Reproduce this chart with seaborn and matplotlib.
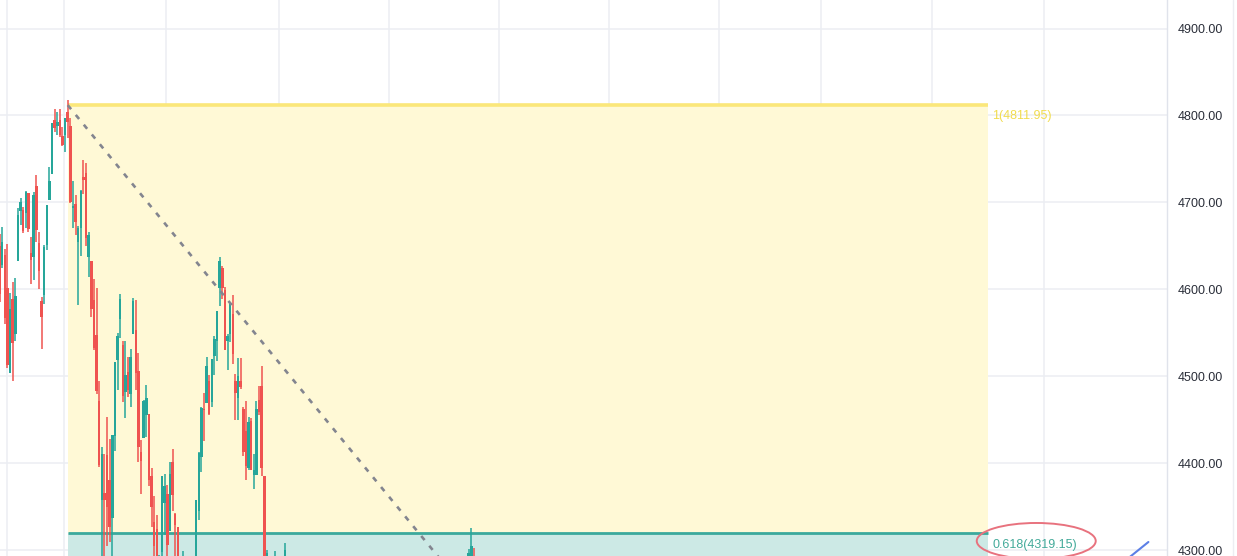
import matplotlib
matplotlib.use("Agg")
import matplotlib.pyplot as plt
from matplotlib.patches import Ellipse
import numpy as np
import pandas as pd
import seaborn as sns

# Daily candles (trading-session number, open, high, low, close)
session = list(range(0, 111)) + [177, 178, 179, 180, 181, 182, 183]
open_ = [4650, 4628, 4640, 4602, 4504, 4589, 4548, 4632, 4690, 4691,
         4688, 4711, 4642, 4637, 4719, 4653, 4587, 4594, 4651, 4703,
         4733, 4795, 4788, 4795, 4776, 4778, 4804, 4788, 4693, 4698,
         4655, 4670, 4729, 4734, 4637, 4632, 4588, 4547, 4471, 4357,
         4366, 4409, 4380, 4337, 4431, 4519, 4566, 4536, 4482, 4505,
         4480, 4548, 4553, 4506, 4413, 4429, 4455, 4456, 4385, 4332,
         4324, 4155, 4298, 4354, 4364, 4322, 4401, 4342, 4327, 4202,
         4223, 4253, 4279, 4202, 4188, 4288, 4345, 4407, 4462, 4469,
         4494, 4470, 4523, 4541, 4602, 4624, 4599, 4540, 4548, 4572,
         4495, 4475, 4494, 4462, 4437, 4394, 4449, 4386, 4386, 4473,
         4489, 4385, 4256, 4278, 4187, 4207, 4253, 4130, 4159, 4181,
         4271,
         4227, 4225, 4270, 4290, 4281, 4273, 4267]
high = [4664, 4672, 4646, 4652, 4596, 4608, 4613, 4694, 4705, 4695,
        4713, 4711, 4660, 4712, 4731, 4666, 4591, 4651, 4697, 4741,
        4791, 4807, 4804, 4808, 4787, 4797, 4818, 4797, 4725, 4708,
        4673, 4714, 4749, 4745, 4666, 4632, 4612, 4602, 4495, 4418,
        4411, 4453, 4428, 4432, 4516, 4550, 4595, 4541, 4540, 4522,
        4531, 4590, 4588, 4527, 4427, 4473, 4490, 4456, 4394, 4362,
        4340, 4294, 4385, 4388, 4375, 4401, 4416, 4343, 4327, 4277,
        4299, 4268, 4292, 4247, 4272, 4358, 4413, 4465, 4481, 4522,
        4501, 4520, 4546, 4575, 4637, 4627, 4603, 4548, 4583, 4594,
        4503, 4521, 4521, 4464, 4471, 4453, 4452, 4410, 4471, 4489,
        4512, 4385, 4300, 4278, 4240, 4299, 4270, 4169, 4200, 4308,
        4271,
        4257, 4280, 4301, 4325, 4302, 4292, 4267]
low = [4585, 4625, 4560, 4510, 4504, 4495, 4540, 4632, 4674, 4665,
       4671, 4666, 4606, 4611, 4654, 4600, 4531, 4583, 4645, 4703,
       4733, 4781, 4778, 4775, 4765, 4758, 4774, 4699, 4671, 4663,
       4582, 4638, 4710, 4650, 4614, 4568, 4530, 4480, 4395, 4222,
       4287, 4305, 4309, 4273, 4414, 4484, 4544, 4470, 4452, 4476,
       4465, 4548, 4484, 4401, 4365, 4429, 4430, 4374, 4327, 4267,
       4222, 4114, 4287, 4317, 4279, 4322, 4345, 4285, 4199, 4157,
       4223, 4209, 4200, 4162, 4187, 4251, 4335, 4390, 4425, 4469,
       4455, 4465, 4501, 4517, 4581, 4589, 4530, 4507, 4539, 4514,
       4450, 4450, 4485, 4408, 4381, 4392, 4392, 4370, 4386, 4455,
       4385, 4267, 4200, 4175, 4162, 4182, 4131, 4062, 4147, 4175,
       4107,
       4201, 4219, 4262, 4277, 4253, 4261, 4218]
close = [4595, 4655, 4567, 4513, 4577, 4538, 4592, 4686, 4701, 4667,
         4712, 4669, 4634, 4709, 4668, 4621, 4568, 4649, 4697, 4725,
         4791, 4786, 4793, 4778, 4766, 4797, 4793, 4701, 4696, 4677,
         4670, 4713, 4726, 4659, 4663, 4577, 4533, 4483, 4398, 4410,
         4357, 4350, 4326, 4432, 4516, 4546, 4589, 4477, 4501, 4484,
         4522, 4587, 4504, 4419, 4402, 4472, 4475, 4380, 4349, 4305,
         4225, 4288, 4385, 4374, 4306, 4387, 4363, 4329, 4201, 4171,
         4278, 4260, 4204, 4173, 4263, 4358, 4412, 4463, 4461, 4512,
         4456, 4520, 4543, 4575, 4632, 4602, 4530, 4546, 4583, 4525,
         4481, 4500, 4488, 4413, 4397, 4447, 4392, 4392, 4462, 4459,
         4394, 4272, 4296, 4175, 4183, 4288, 4132, 4155, 4175, 4300,
         4147,
         4208, 4280, 4297, 4305, 4275, 4284, 4228]

# Fibonacci retracement drawing
fib_sessions = [26, 377]
fib_prices = [4811.95, 3521.90]
fib_levels = [1.0, 0.618]
level_labels = ["1(4811.95)", "0.618(4319.15)"]

# piece of another trend line on the right
trend_sessions = [430.5, 438.4]
trend_prices = [4290.0, 4309.2]

# vertical grid (first session of each 2nd month)
grid_sessions = [3, 25, 64, 107, 149, 191, 233, 275, 314, 356, 399]
price_ticks = [4300, 4400, 4500, 4600, 4700, 4800, 4900]

UP = "#26a69a"
DOWN = "#ef5350"

sns.set_theme(style="white")
plt.rcParams["font.family"] = ["Liberation Sans", "DejaVu Sans"]

df = pd.DataFrame({"session": session, "open": open_, "high": high,
                   "low": low, "close": close})
df["color"] = np.where(df["close"] >= df["open"], UP, DOWN)

fig = plt.figure(figsize=(12.37, 5.56), dpi=100)
ax = fig.add_axes([0, 0, 1167 / 1237, 1])
ax.set_facecolor("white")

ax.set_xlim(0.15, 445.5)
ax.set_ylim(4293.1, 4932.9)

# grid
for p in price_ticks:
    ax.axhline(p, color="#eceef3", lw=1.1, zorder=0)
for s in grid_sessions:
    ax.axvline(s - 0.35, color="#eceef3", lw=1.1, zorder=0)

# fib bands
top, lvl = fib_prices[0], fib_prices[1] + fib_levels[1] * (fib_prices[0] - fib_prices[1])
x0, x1 = fib_sessions
ax.fill_between([x0, x1], lvl, top, color="#fff9d6", zorder=1, lw=0)
ax.fill_between([x0, x1], 4200, lvl, color="#cce9e5", zorder=1, lw=0)
ax.plot([x0, x1], [top, top], color="#fbe77a", lw=2.6, zorder=2, solid_capstyle="butt")
ax.plot([x0, x1], [lvl, lvl], color="#3ba99c", lw=2.0, zorder=2, solid_capstyle="butt")

ax.annotate(level_labels[0], (x1, top), xytext=(5, -11), textcoords="offset pixels",
            color="#f1dc4e", fontsize=9, va="center", ha="left")
ax.annotate(level_labels[1], (x1, lvl), xytext=(5, -12), textcoords="offset pixels",
            color="#43aa9a", fontsize=9, va="center", ha="left")

# diagonal dashed fib trend line
sns.lineplot(x=fib_sessions, y=fib_prices, ax=ax, color="#83858f", lw=1.9,
             linestyle=(0, (2.0, 2.8)), zorder=4)

# candles
ax.vlines(df["session"], df["low"], df["high"], colors=df["color"], lw=1.1, zorder=3)
body_lo = df[["open", "close"]].min(axis=1)
body_h = (df["close"] - df["open"]).abs().clip(lower=1.5)
ax.bar(df["session"], body_h, bottom=body_lo, width=0.95, color=df["color"],
       lw=0, zorder=3)

# blue trend line piece
sns.lineplot(x=trend_sessions, y=trend_prices, ax=ax, color="#5c7fe6", lw=1.5, zorder=4)

# hand drawn ellipse around 0.618 label
ax.add_patch(Ellipse((395.6, 4310.4), 45.4, 41.4, fill=False, ec="#e8727e",
                     lw=1.4, zorder=5))

# price scale on the right
ax.yaxis.tick_right()
ax.set_yticks(price_ticks)
ax.set_yticklabels([f"{p:.2f}" for p in price_ticks])
ax.tick_params(axis="y", length=0, pad=8, labelsize=9, labelcolor="#2a2e39")
ax.set_xticks([])
ax.set_xlabel("")
ax.set_ylabel("")
for side in ["top", "left", "bottom"]:
    ax.spines[side].set_visible(False)
ax.spines["right"].set_color("#e0e3eb")
ax.spines["right"].set_linewidth(1)

fig.add_artist(plt.Line2D([1233 / 1237, 1233 / 1237], [0, 1], color="#eceef2", lw=1))

fig.savefig("out.png", dpi=100)
